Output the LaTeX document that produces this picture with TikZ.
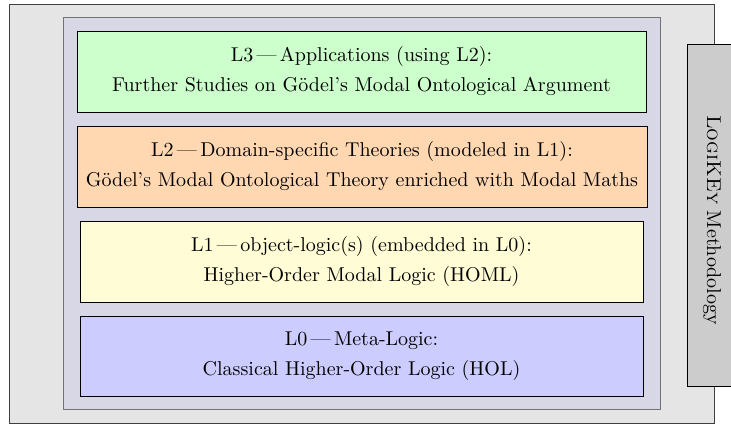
\documentclass[tikz,border=0pt]{standalone}
\usepackage{tikz}

\definecolor{frameGray}{HTML}{E5E5E5}
\definecolor{layerBack}{HTML}{D7D7E5}
\definecolor{appGreen}{HTML}{CCFFCC}
\definecolor{theoryPeach}{HTML}{FFD8B2}
\definecolor{logicYellow}{HTML}{FFFCD6}
\definecolor{metaBlue}{HTML}{CCCCFF}
\definecolor{sideGray}{HTML}{CCCCCC}

\tikzset{
  layer/.style={draw=black, line width=0.5pt, inner sep=0pt, align=center,
    minimum height=40.5pt, font={\fontsize{10}{15}\selectfont}},
}

\begin{document}
\begin{tikzpicture}[x=0.5pt, y=-0.5pt, line width=0.5pt]
  \useasboundingbox (0,0) rectangle (731,424);
  % frames
  \node[draw=black!75, fill=frameGray, minimum width=352.5pt, minimum height=209.5pt, inner sep=0pt] (frame) at (361.5,213.5) {};
  \node[draw=black!55, fill=layerBack, minimum width=298.5pt, minimum height=196pt, inner sep=0pt] (stack) at (361.5,213) {};
  \node[draw=black, fill=sideGray, minimum width=25pt, minimum height=171pt, inner sep=0pt] (side) at (712,215) {};
  \node[rotate=-90, font=\normalsize] (sidetext) at ([yshift=-2.5pt]side.center) {\textsc{LogiKEy} Methodology};
  % layers
  \node[layer, fill=appGreen, minimum width=284.5pt] (L3) at (361.5,71.5)
    {L3\,---\,Applications (using L2):\\ Further Studies on G\"odel's Modal Ontological Argument};
  \node[layer, fill=theoryPeach, minimum width=285pt] (L2) at (362,166.5)
    {L2\,---\,Domain-specific Theories (modeled in L1):\\ G\"odel's Modal Ontological Theory enriched with Modal Maths};
  \node[layer, fill=logicYellow, minimum width=281.5pt] (L1) at (361.5,261.5)
    {L1\,---\,object-logic(s) (embedded in L0):\\ Higher-Order Modal Logic (HOML)};
  \node[layer, fill=metaBlue, minimum width=281.5pt, minimum height=40pt] (L0) at (361.5,356)
    {L0\,---\,Meta-Logic:\\ Classical Higher-Order Logic (HOL)};
\end{tikzpicture}
\end{document}
